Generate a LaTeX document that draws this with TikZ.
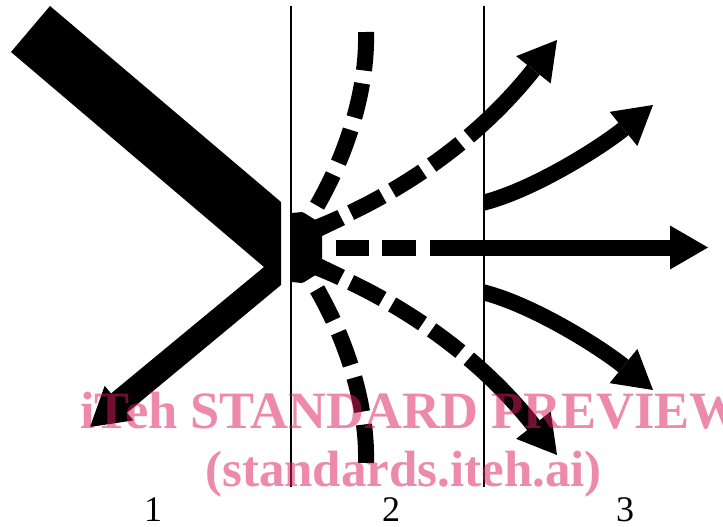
\documentclass[tikz,border=0pt]{standalone}
\usepackage{fontspec}
\setmainfont{Liberation Serif}
\usetikzlibrary{arrows.meta}
\definecolor{wmk}{RGB}{220,30,95}
\tikzset{
  beam/.style={line width=16pt, draw=black},
  headtip/.style={-{Triangle[length=38pt,width=44pt,line width=0pt]}},
  dashV/.style={dash pattern=on 32pt off 13pt on 35pt off 13pt on 35pt off 13pt on 35pt off 13pt on 80pt off 1pt},
  dashD/.style={dash pattern=on 44pt off 11pt on 36pt off 11pt on 36pt off 11pt on 36pt off 11pt on 2000pt off 1pt},
  dashH/.style={dash pattern=on 22pt off 14pt on 33pt off 13pt on 34pt off 14pt on 2000pt off 1pt},
  wall/.style={line width=1.6pt, draw=black},
  lbl/.style={font=\fontsize{36}{36}\selectfont, anchor=base, inner sep=0pt},
  wmark/.style={text=wmk, opacity=0.52, anchor=base west, inner sep=0pt}
}
\begin{document}
\begin{tikzpicture}[x=1pt,y=-1pt]
\useasboundingbox (0,0) rectangle (723,527);
% incoming band and reflected arrow
\fill[black] (50,6) -- (281,202) -- (281,285) -- (127,412.7) -- (133.3,420.4) -- (90,427)
  -- (104.7,385.8) -- (111,393.5) -- (264,267) -- (11,52) -- cycle;
% scattered beams
\coordinate (o1) at (292,243); \coordinate (e1) at (366,32);
\coordinate (o2) at (300,234); \coordinate (e2) at (557,40);
\coordinate (o4) at (300,247.5); \coordinate (e4) at (708,247.5);
\coordinate (o6) at (300,261); \coordinate (e6) at (557,455);
\coordinate (o7) at (292,252); \coordinate (e7) at (366,463);
\begin{scope}
  \clip (292,0) rectangle (723,527);
  \draw[beam, dashV] (o1) .. controls (330,195) and (368,110) .. (e1);
  \draw[beam, dashV] (o7) .. controls (330,300) and (368,385) .. (e7);
  \draw[beam, dashD, headtip] (o2) .. controls (380,205) and (470,150) .. (e2);
  \draw[beam, dashD, headtip] (o6) .. controls (380,290) and (470,345) .. (e6);
  \draw[beam, dashH, headtip] (o4) -- (e4);
\end{scope}
% central spot
\fill[black] (292,213) -- (302,212) -- (315,220) -- (338,212) -- (345,225) -- (322,236)
  -- (322,259) -- (345,270) -- (338,283) -- (315,275) -- (302,283) -- (292,282) -- cycle;
% transmitted beams
\coordinate (o3) at (480,203.5); \coordinate (e3) at (653,105);
\coordinate (o5) at (480,291.5); \coordinate (e5) at (653,390);
\begin{scope}
  \clip (484,0) rectangle (723,527);
  \draw[beam, headtip] (o3) .. controls (530,192) and (600,148) .. (e3);
  \draw[beam, headtip] (o5) .. controls (530,303) and (600,347) .. (e5);
\end{scope}
% boundaries
\coordinate (w1t) at (291,6); \coordinate (w1b) at (291,487);
\coordinate (w2t) at (484,6); \coordinate (w2b) at (484,487);
\draw[wall] (w1t) -- (w1b);
\draw[wall] (w2t) -- (w2b);
% labels
\node[lbl] (n1) at (153,521) {1};
\node[lbl] (n2) at (391,521) {2};
\node[lbl] (n3) at (625,521) {3};
% watermark
\node[wmark, font=\fontsize{52.5}{52.5}\selectfont\bfseries] (wm1) at (80,428) {iTeh STANDARD PREVIEW};
\node[wmark, font=\fontsize{51}{51}\selectfont\bfseries] (wm2) at (205,486) {(standards.iteh.ai)};
\end{tikzpicture}
\end{document}
